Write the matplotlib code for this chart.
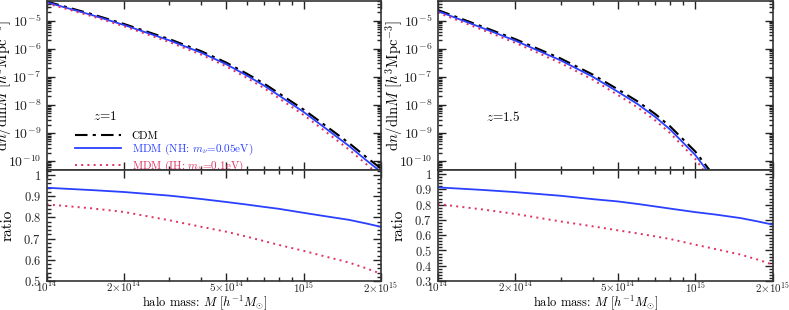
import numpy as np
import matplotlib
matplotlib.use("Agg")
import matplotlib.pyplot as plt
from matplotlib.ticker import LogLocator, NullFormatter, FixedLocator, MultipleLocator

plt.rcParams['mathtext.fontset'] = 'cm'
plt.rcParams['font.family'] = ['cmr10', 'DejaVu Serif']
plt.rcParams['axes.formatter.use_mathtext'] = True
plt.rcParams['axes.unicode_minus'] = False

# ---------------- data ----------------
mass = [1e14, 1.5e14, 2e14, 3e14, 4e14, 5e14, 6e14, 7e14, 8e14, 1e15, 1.2e15, 1.5e15, 1.75e15, 2e15]

cdm_z1 = [4.8e-5, 1.7e-5, 7.6e-6, 2.2e-6, 8.1e-7, 3.2e-7, 1.3e-7, 5.8e-8, 2.6e-8, 6.8e-9, 2.0e-9, 4.4e-10, 1.4e-10, 5.4e-11]
ratio_nh_z1 = [0.939, 0.928, 0.919, 0.902, 0.886, 0.872, 0.860, 0.849, 0.840, 0.821, 0.806, 0.788, 0.771, 0.755]
ratio_ih_z1 = [0.861, 0.842, 0.825, 0.786, 0.755, 0.732, 0.709, 0.688, 0.670, 0.642, 0.617, 0.587, 0.560, 0.534]

cdm_z15 = [2.4e-5, 6.0e-6, 2.2e-6, 4.5e-7, 1.2e-7, 3.6e-8, 1.3e-8, 4.7e-9, 1.7e-9, 2.2e-10, 2.5e-11, np.nan, np.nan, np.nan]
ratio_nh_z15 = [0.913, 0.896, 0.882, 0.858, 0.836, 0.821, 0.804, 0.788, 0.774, 0.751, 0.735, 0.712, 0.690, 0.669]
ratio_ih_z15 = [0.804, 0.768, 0.739, 0.690, 0.658, 0.632, 0.611, 0.592, 0.575, 0.538, 0.509, 0.473, 0.440, 0.407]

labels = ['CDM', r'MDM (NH: $m_\nu$=0.05eV)', r'MDM (IH: $m_\nu$=0.1eV)']
redshift_labels = [r'$z$=1', r'$z$=1.5']

xticks = [1e14, 2e14, 5e14, 1e15, 2e15]
xticklabels = [r'$10^{14}$', r'$2{\times}10^{14}$', r'$5{\times}10^{14}$', r'$10^{15}$', r'$2{\times}10^{15}$']
yticks_top = [1e-10, 1e-9, 1e-8, 1e-7, 1e-6, 1e-5]
yticklabels_top = [r'$10^{-10}$', r'$10^{-9}$', r'$10^{-8}$', r'$10^{-7}$', r'$10^{-6}$', r'$10^{-5}$']
ratio_ticks_z1 = [0.5, 0.6, 0.7, 0.8, 0.9, 1.0]
ratio_ticks_z15 = [0.3, 0.4, 0.5, 0.6, 0.7, 0.8, 0.9, 1.0]

# ---------------- style ----------------
BLUE = '#2a40ff'
RED = '#e0305f'

W, H = 789, 310
fig = plt.figure(figsize=(W / 100, H / 100), dpi=100)

def frac(x0, x1, ytop, ybot):
    return [x0 / W, 1 - ybot / H, (x1 - x0) / W, (ybot - ytop) / H]

panels = [
    dict(x0=46.7, x1=381.0, cdm=cdm_z1, nh=ratio_nh_z1, ih=ratio_ih_z1,
         rlim=(0.5, 1.025), rticks=ratio_ticks_z1, zlab=redshift_labels[0], zx=0.175, legend=True),
    dict(x0=437.7, x1=772.7, cdm=cdm_z15, nh=ratio_nh_z15, ih=ratio_ih_z15,
         rlim=(0.3, 1.03), rticks=ratio_ticks_z15, zlab=redshift_labels[1], zx=0.195, legend=False),
]

def style_axis(ax):
    ax.tick_params(which='both', direction='in', top=True, right=True, colors='#222222',
                   width=1.0)
    ax.tick_params(which='major', length=6)
    ax.tick_params(which='minor', length=3)
    ax.tick_params(axis='x', pad=-1)
    ax.tick_params(axis='y', pad=4)
    for s in ax.spines.values():
        s.set_linewidth(1.2)
        s.set_color('#333333')

m = np.array(mass)
for p in panels:
    cdm = np.array(p['cdm'], dtype=float)
    nh = np.array(p['nh'])
    ih = np.array(p['ih'])

    axt = fig.add_axes(frac(p['x0'], p['x1'], 1.0, 169.5))
    axb = fig.add_axes(frac(p['x0'], p['x1'], 169.5, 281.0), sharex=axt)

    l1, = axt.plot(m, cdm, color='black', lw=1.5, ls=(0, (6, 2.5, 1.5, 2.5)))
    l2, = axt.plot(m, cdm * nh, color=BLUE, lw=1.3, ls='-')
    l3, = axt.plot(m, cdm * ih, color=RED, lw=1.4, ls=(0, (1, 2.2)))

    axb.plot(m, nh, color=BLUE, lw=1.3, ls='-')
    axb.plot(m, ih, color=RED, lw=1.4, ls=(0, (1, 2.2)))

    for ax in (axt, axb):
        style_axis(ax)

    axt.set_xscale('log')
    axt.set_yscale('log')
    axt.set_xlim(1e14, 2e15)
    axt.set_ylim(5e-11, 5e-5)
    axt.yaxis.set_major_locator(FixedLocator(yticks_top))
    axt.set_yticklabels(yticklabels_top, fontsize=10)
    axt.yaxis.set_minor_locator(LogLocator(base=10, subs=np.arange(2, 10), numticks=30))
    axt.yaxis.set_minor_formatter(NullFormatter())
    plt.setp(axt.get_xticklabels(), visible=False)
    axt.set_ylabel(r'd$n$/dln$M$ [$h^3$Mpc$^{-3}$]', fontsize=10.5)

    axb.set_ylim(*p['rlim'])
    axb.yaxis.set_major_locator(FixedLocator(p['rticks']))
    axb.set_yticklabels([r'$%g$' % t for t in p['rticks']], fontsize=9)
    axb.yaxis.set_minor_locator(MultipleLocator(0.02))
    axb.set_xticks(xticks)
    axb.set_xticklabels(xticklabels, fontsize=8)
    axb.xaxis.set_minor_locator(LogLocator(base=10, subs=np.arange(2, 10), numticks=30))
    axb.xaxis.set_minor_formatter(NullFormatter())
    axb.set_ylabel('ratio', fontsize=11)
    axb.set_xlabel(r'halo mass: $M$ [$h^{-1}M_{\odot}$]', fontsize=9)

    axt.yaxis.set_label_coords(-0.097, 0.5)
    axb.yaxis.set_label_coords(-0.097, 0.5)
    axb.xaxis.set_label_coords(0.472, -0.108)

    axt.text(p['zx'], 0.312, p['zlab'], transform=axt.transAxes, fontsize=9.5,
             ha='center', va='center')
    if p['legend']:
        leg = axt.legend([l1, l2, l3], labels, loc='upper left', bbox_to_anchor=(0.085, 0.23),
                         frameon=False, fontsize=8, handlelength=4.1, handletextpad=1.0,
                         labelspacing=0.15, borderaxespad=0, borderpad=0)
        for t, c in zip(leg.get_texts(), ['black', BLUE, RED]):
            t.set_color(c)

fig.savefig('out.png', dpi=100)
